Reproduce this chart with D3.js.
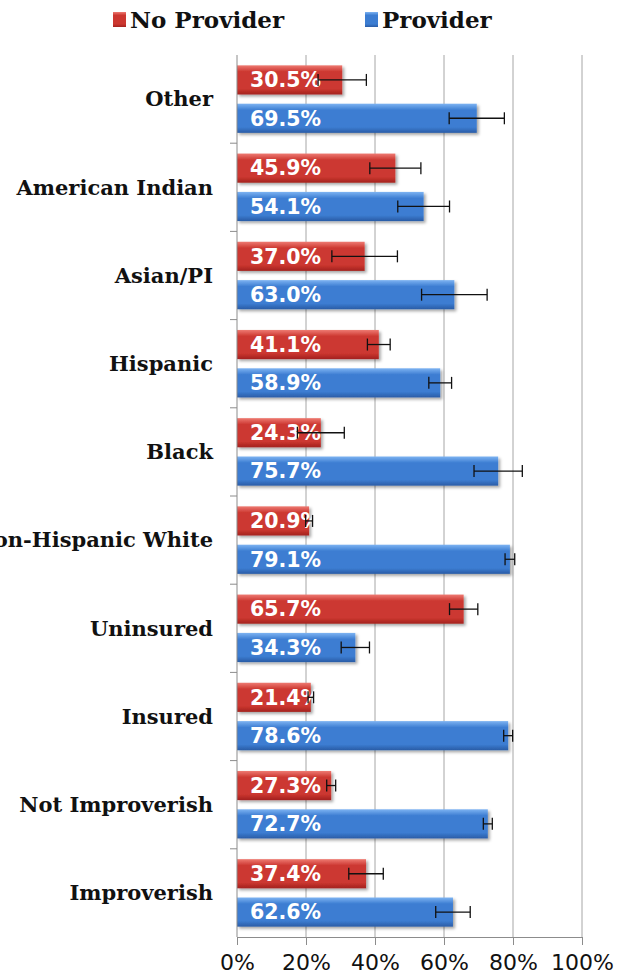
<!DOCTYPE html>
<html>
<head>
<meta charset="utf-8">
<script src="https://cdn.jsdelivr.net/npm/d3@7"></script>
<style>
  body { margin: 0; background: #fff; }
</style>
</head>
<body>
<div id="chart"></div>
<script>
// Share of people with / without a provider, by group (percent)
let categories = ["Other", "American Indian", "Asian/PI", "Hispanic", "Black",
    "Non-Hispanic White", "Uninsured", "Insured", "Not Improverish", "Improverish"];
let seriesNames = ["No Provider", "Provider"];
let noProvider = [30.5, 45.9, 37.0, 41.1, 24.3, 20.9, 65.7, 21.4, 27.3, 37.4];
let provider = [69.5, 54.1, 63.0, 58.9, 75.7, 79.1, 34.3, 78.6, 72.7, 62.6];
// half-width of the error bars
let noProviderErr = [7.0, 7.4, 9.5, 3.3, 6.8, 1.0, 4.1, 0.8, 1.3, 5.0];
let providerErr = [8.0, 7.5, 9.5, 3.3, 7.0, 1.4, 4.1, 1.3, 1.3, 5.0];
let xTicks = [0, 20, 40, 60, 80, 100];

// Chart size
let width = 629, height = 978;
let plot = {left: 237, right: 582, top: 55, bottom: 937};

let svg = d3.select("#chart").append("svg")
    .attr("width", width)
    .attr("height", height);

// Scales
let x = d3.scaleLinear().domain([0, 100]).range([plot.left, plot.right]);
let y0 = d3.scaleBand().domain(categories).range([plot.top, plot.bottom]);
let y1 = d3.scaleBand().domain(seriesNames).range([0, y0.bandwidth()])
    .paddingInner(0.24).paddingOuter(0.27);

let colors = {
    "No Provider": ["#ee7a72", "#cc3730", "#a3221e"],
    "Provider": ["#7db3f2", "#3c7dd2", "#2a5ca6"]
};

// Gradients and shadow for the bevelled bars
let defs = svg.append("defs");
seriesNames.forEach(function (s, i) {
    let g = defs.append("linearGradient")
        .attr("id", "grad" + i)
        .attr("x1", 0).attr("x2", 0).attr("y1", 0).attr("y2", 1);
    g.append("stop").attr("offset", "0%").attr("stop-color", colors[s][0]);
    g.append("stop").attr("offset", "22%").attr("stop-color", colors[s][1]);
    g.append("stop").attr("offset", "80%").attr("stop-color", colors[s][1]);
    g.append("stop").attr("offset", "100%").attr("stop-color", colors[s][2]);
});
defs.append("filter").attr("id", "shadow")
    .attr("x", "-5%").attr("y", "-20%").attr("width", "115%").attr("height", "160%")
    .append("feDropShadow")
    .attr("dx", 2).attr("dy", 2).attr("stdDeviation", 1.5)
    .attr("flood-color", "#000").attr("flood-opacity", 0.35);

// Vertical gridlines
svg.append("g").selectAll("line")
    .data(xTicks.slice(1))
    .join("line")
    .attr("x1", d => x(d)).attr("x2", d => x(d))
    .attr("y1", plot.top).attr("y2", plot.bottom)
    .attr("stroke", "#a6a6a6").attr("stroke-width", 1);

// Bars
let rows = categories.map(function (c, i) {
    return [
        {cat: c, s: "No Provider", v: noProvider[i], e: noProviderErr[i], k: 0},
        {cat: c, s: "Provider", v: provider[i], e: providerErr[i], k: 1}
    ];
}).flat();

let bars = svg.append("g").selectAll("g")
    .data(rows)
    .join("g")
    .attr("transform", d => `translate(0,${y0(d.cat) + y1(d.s)})`);

bars.append("rect")
    .attr("x", x(0))
    .attr("y", 0)
    .attr("width", d => x(d.v) - x(0))
    .attr("height", y1.bandwidth())
    .attr("fill", d => `url(#grad${d.k})`)
    .attr("filter", "url(#shadow)");

bars.append("text")
    .attr("x", x(0) + 13)
    .attr("y", y1.bandwidth() / 2)
    .attr("dy", "0.36em")
    .attr("fill", "#fff")
    .attr("font-family", "DejaVu Sans, Verdana, sans-serif")
    .attr("font-weight", "bold")
    .attr("font-size", "20.5px")
    .text(d => d.v.toFixed(1) + "%");

// Error bars
let err = bars.append("g")
    .attr("stroke", "#111").attr("stroke-width", 1.3);
err.append("line")
    .attr("x1", d => x(d.v - d.e)).attr("x2", d => x(d.v + d.e))
    .attr("y1", y1.bandwidth() / 2).attr("y2", y1.bandwidth() / 2);
err.append("line")
    .attr("x1", d => x(d.v - d.e)).attr("x2", d => x(d.v - d.e))
    .attr("y1", y1.bandwidth() / 2 - 6).attr("y2", y1.bandwidth() / 2 + 6);
err.append("line")
    .attr("x1", d => x(d.v + d.e)).attr("x2", d => x(d.v + d.e))
    .attr("y1", y1.bandwidth() / 2 - 6).attr("y2", y1.bandwidth() / 2 + 6);

// Y axis: line with ticks between groups
let yAxis = svg.append("g");
yAxis.append("line")
    .attr("x1", plot.left).attr("x2", plot.left)
    .attr("y1", plot.top).attr("y2", plot.bottom)
    .attr("stroke", "#8c8c8c");
yAxis.selectAll("line.tick")
    .data(categories.slice(1))
    .join("line").classed("tick", true)
    .attr("x1", plot.left - 7).attr("x2", plot.left)
    .attr("y1", d => y0(d)).attr("y2", d => y0(d))
    .attr("stroke", "#8c8c8c");
yAxis.selectAll("text")
    .data(categories)
    .join("text")
    .attr("x", 213)
    .attr("y", d => y0(d) + y0.bandwidth() / 2)
    .attr("dy", "0.35em")
    .attr("text-anchor", "end")
    .attr("font-family", "DejaVu Serif, serif")
    .attr("font-weight", "bold")
    .attr("font-size", "21px")
    .attr("fill", "#111")
    .text(d => d);

// X axis
let xAxis = svg.append("g")
    .attr("transform", `translate(0,${plot.bottom})`)
    .call(d3.axisBottom(x).tickValues(xTicks).tickSize(8).tickPadding(9)
        .tickFormat(d => d + "%"));
xAxis.select(".domain").attr("stroke", "#8c8c8c");
xAxis.selectAll(".tick line").attr("stroke", "#8c8c8c");
xAxis.selectAll(".tick text")
    .attr("font-family", "DejaVu Sans, Verdana, sans-serif")
    .attr("font-size", "22px")
    .attr("fill", "#111");

// Legend
let legend = svg.append("g").selectAll("g")
    .data(seriesNames)
    .join("g")
    .attr("transform", (d, i) => `translate(${[113, 365][i]},12)`);
legend.append("rect")
    .attr("width", 13).attr("height", 15)
    .attr("fill", (d, i) => `url(#grad${i})`);
legend.append("text")
    .attr("x", 17)
    .attr("y", 16)
    .attr("font-family", "DejaVu Serif, serif")
    .attr("font-weight", "bold")
    .attr("font-size", "23px")
    .attr("fill", "#111")
    .text(d => d);
</script>
</body>
</html>
